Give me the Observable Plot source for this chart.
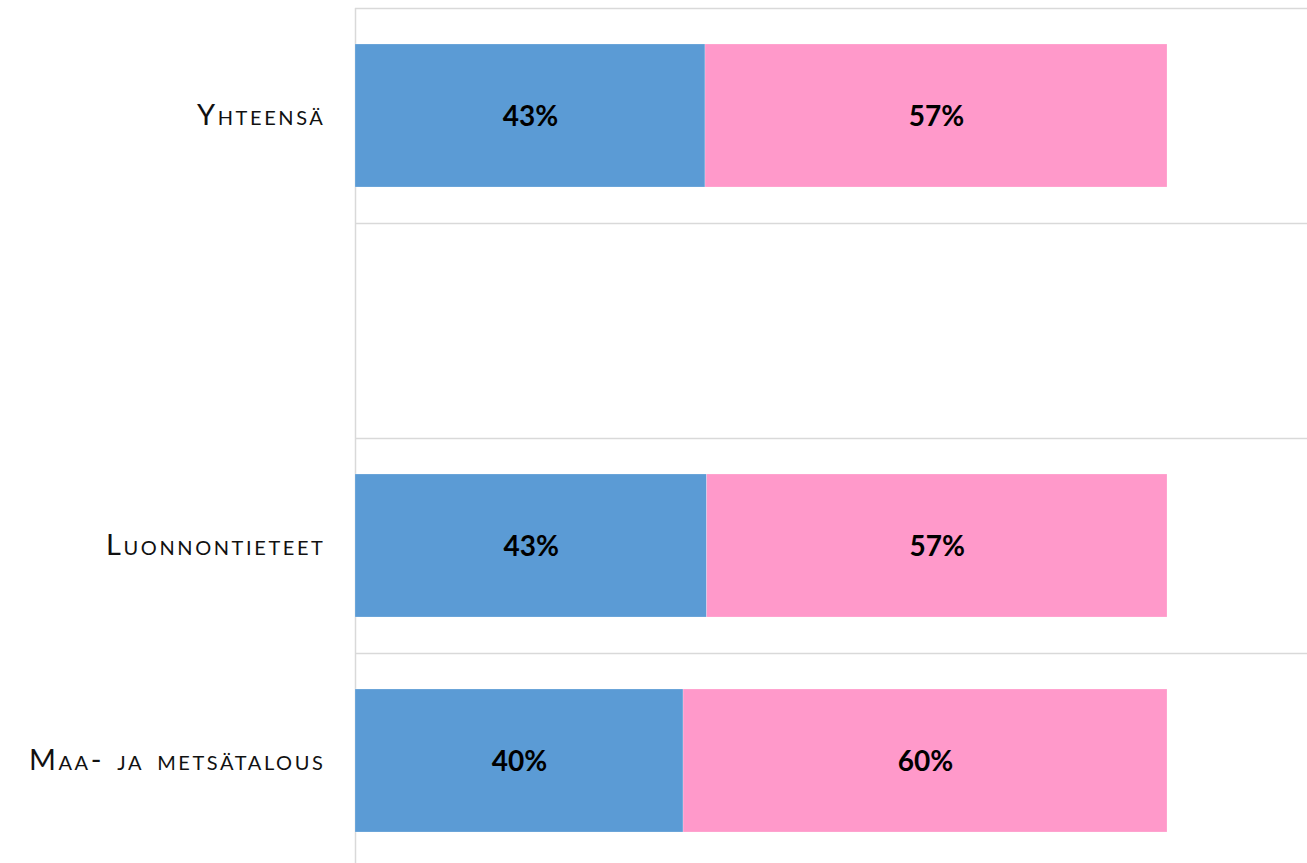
<!DOCTYPE html>
<html>
<head>
<meta charset="utf-8">
<script src="https://cdn.jsdelivr.net/npm/d3@7"></script>
<script src="https://cdn.jsdelivr.net/npm/@observablehq/plot@0.6"></script>
<style>
  html, body { margin: 0; padding: 0; background: #fff; }
  #chart svg { display: block; }
  #chart g[aria-label="y-axis tick label"] text { letter-spacing: 2.6px; word-spacing: 3px; }
</style>
</head>
<body>
<div id="chart"></div>
<script>
// Categories (top to bottom); the second row is an empty spacer row
const categories = ["Yhteensä", " ", "Luonnontieteet", "Maa- ja metsätalous"];
const seriesNames = ["Miehet", "Naiset"];
const seriesColors = ["#5B9BD5", "#FF99CA"];
// Shares (%)
const rowCategories = ["Yhteensä", "Luonnontieteet", "Maa- ja metsätalous"];
const miehet = [43.1, 43.3, 40.4];
const naiset = [56.9, 56.7, 59.6];

const data = [];
rowCategories.forEach((c, i) => {
  data.push({cat: c, series: seriesNames[0], value: miehet[i]});
  data.push({cat: c, series: seriesNames[1], value: naiset[i]});
});

const W = 1307, H = 863;
const plotW = W - 355;          // drawing area width
const barW = 812;               // pixel width of 100 %
const xMax = 100 * plotW / barW;

const chart = Plot.plot({
  width: W,
  height: H,
  marginLeft: 355,
  marginRight: 0,
  marginTop: 8,
  marginBottom: 0,
  style: {fontFamily: "Lato, 'Open Sans', sans-serif", background: "#fff"},
  x: {domain: [0, xMax], axis: null},
  y: {domain: categories, range: [8, 868], paddingInner: 0.335, paddingOuter: 0.1675, label: null},
  color: {domain: seriesNames, range: seriesColors},
  marks: [
    Plot.ruleY(categories, {y: d => d, dy: -107.5, x1: 0, x2: xMax, stroke: "#d9d9d9", strokeWidth: 1.5}),
    Plot.ruleX([0], {stroke: "#d9d9d9", strokeWidth: 1.5}),
    Plot.barX(data, {y: "cat", x: "value", fill: "series", z: "series", order: seriesNames,
      stroke: "#ffffff", strokeOpacity: 0.35, strokeWidth: 0.6}),
    Plot.text(data, Plot.stackX({y: "cat", x: "value", z: "series", order: seriesNames,
      text: d => Math.round(d.value) + "%", fill: "#000", fontSize: 28, fontWeight: "bold", dy: 1.5})),
    Plot.axisY({tickSize: 0, tickPadding: 30, fontSize: 29, fontVariant: "small-caps",
      fill: "#111", label: null})
  ]
});
document.getElementById("chart").appendChild(chart);
</script>
</body>
</html>
